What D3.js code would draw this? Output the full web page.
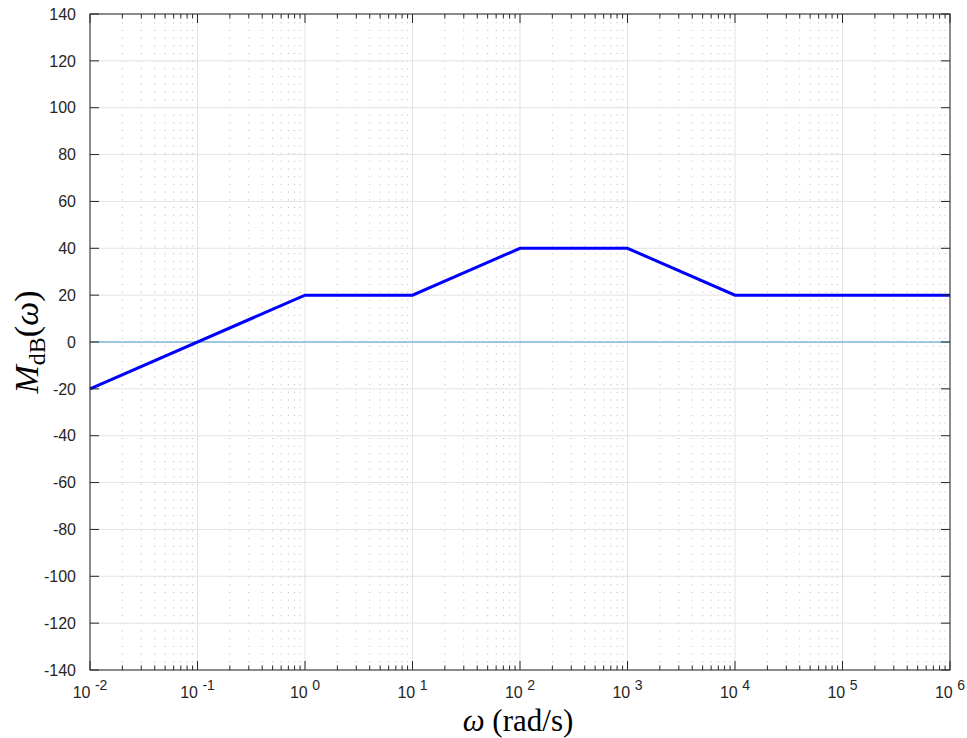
<!DOCTYPE html>
<html>
<head>
<meta charset="utf-8">
<script src="https://d3js.org/d3.v7.min.js"></script>
<style>
  body { margin: 0; background: #fff; }
  .tick-label { font: 16px "Liberation Sans", Arial, sans-serif; fill: #262626; }
  .ax-title { font-family: "Liberation Serif", "DejaVu Serif", serif; fill: #000; }
</style>
</head>
<body>
<script>
// asymptotic magnitude (Bode), break points
var omega = [0.01, 1, 10, 100, 1000, 10000, 1e6];
var magDb = [-20, 20, 20, 40, 40, 20, 20];
var yTicks = [-140, -120, -100, -80, -60, -40, -20, 0, 20, 40, 60, 80, 100, 120, 140];
var xDecades = [-2, -1, 0, 1, 2, 3, 4, 5, 6];

var W = 967, H = 738;
var m = {left: 90, right: 17, top: 14, bottom: 68};

var svg = d3.select('body').append('svg')
  .attr('width', W).attr('height', H);

var x = d3.scaleLog().domain([1e-2, 1e6]).range([m.left, W - m.right]);
var y = d3.scaleLinear().domain([-140, 140]).range([H - m.bottom, m.top]);

var x0 = x.range()[0], x1 = x.range()[1], y0 = y.range()[0], y1 = y.range()[1];

// minor ticks positions (2..9 in each decade)
var minors = [];
xDecades.slice(0, -1).forEach(function(e) {
  for (var k = 2; k <= 9; k++) minors.push(k * Math.pow(10, e));
});

var g = svg.append('g');

// minor grid (dotted)
g.selectAll('.mgrid').data(minors).enter().append('line')
  .attr('x1', function(d) { return x(d); }).attr('x2', function(d) { return x(d); })
  .attr('y1', y0).attr('y2', y1)
  .attr('stroke', '#b8b8b8').attr('stroke-width', 1)
  .attr('stroke-dasharray', '1,6.7');

// major grid
g.selectAll('.vgrid').data(xDecades).enter().append('line')
  .attr('x1', function(d) { return x(Math.pow(10, d)); }).attr('x2', function(d) { return x(Math.pow(10, d)); })
  .attr('y1', y0).attr('y2', y1)
  .attr('stroke', '#e3e3e3').attr('stroke-width', 1);
g.selectAll('.hgrid').data(yTicks).enter().append('line')
  .attr('x1', x0).attr('x2', x1)
  .attr('y1', function(d) { return y(d); }).attr('y2', function(d) { return y(d); })
  .attr('stroke', '#e3e3e3').attr('stroke-width', 1);

// zero line
g.append('line')
  .attr('x1', x0).attr('x2', x1).attr('y1', y(0)).attr('y2', y(0))
  .attr('stroke', '#4d9bd0').attr('stroke-width', 1.2);

// data line
var pts = omega.map(function(w, i) { return [w, magDb[i]]; });
g.append('path')
  .datum(pts)
  .attr('d', d3.line().x(function(d) { return x(d[0]); }).y(function(d) { return y(d[1]); }))
  .attr('fill', 'none').attr('stroke', '#0000ff').attr('stroke-width', 3)
  .attr('stroke-linejoin', 'miter');

// frame
svg.append('rect')
  .attr('x', x0).attr('y', y1).attr('width', x1 - x0).attr('height', y0 - y1)
  .attr('fill', 'none').attr('stroke', '#262626').attr('stroke-width', 1);

// ticks (inside, mirrored)
var majL = 9, minL = 4.5;
var tk = svg.append('g').attr('stroke', '#262626').attr('stroke-width', 1);
xDecades.forEach(function(e) {
  var px = x(Math.pow(10, e));
  tk.append('line').attr('x1', px).attr('x2', px).attr('y1', y0).attr('y2', y0 - majL);
  tk.append('line').attr('x1', px).attr('x2', px).attr('y1', y1).attr('y2', y1 + majL);
});
minors.forEach(function(d) {
  var px = x(d);
  tk.append('line').attr('x1', px).attr('x2', px).attr('y1', y0).attr('y2', y0 - minL);
  tk.append('line').attr('x1', px).attr('x2', px).attr('y1', y1).attr('y2', y1 + minL);
});
yTicks.forEach(function(v) {
  var py = y(v);
  tk.append('line').attr('x1', x0).attr('x2', x0 + majL).attr('y1', py).attr('y2', py);
  tk.append('line').attr('x1', x1).attr('x2', x1 - majL).attr('y1', py).attr('y2', py);
});

// y tick labels
svg.selectAll('.ylab').data(yTicks).enter().append('text')
  .attr('class', 'tick-label')
  .attr('x', x0 - 14).attr('y', function(d) { return y(d); })
  .attr('dy', '0.36em').attr('text-anchor', 'end')
  .text(function(d) { return d; });

// x tick labels: 10^e
xDecades.forEach(function(e) {
  var t = svg.append('text').attr('class', 'tick-label')
    .attr('x', x(Math.pow(10, e))).attr('y', y0 + 28)
    .attr('text-anchor', 'middle');
  t.append('tspan').text('10 ');
  t.append('tspan').attr('dy', -8).style('font-size', '14px').text(e);
});

// axis titles
var xt = svg.append('text').attr('class', 'ax-title')
  .attr('x', (x0 + x1) / 2 - 2).attr('y', H - 7)
  .attr('text-anchor', 'middle').style('font-size', '31px');
xt.append('tspan').style('font-style', 'italic').text('\u03c9');
xt.append('tspan').text(' (rad/s)');

var yt = svg.append('text').attr('class', 'ax-title')
  .attr('transform', 'translate(38,' + ((y0 + y1) / 2) + ') rotate(-90)')
  .attr('text-anchor', 'middle').style('font-size', '34px');
yt.append('tspan').style('font-style', 'italic').text('M');
yt.append('tspan').attr('dy', 7).style('font-size', '24px').text('dB');
yt.append('tspan').attr('dy', -7).text('(');
yt.append('tspan').style('font-style', 'italic').text('\u03c9');
yt.append('tspan').text(')');
</script>
</body>
</html>
